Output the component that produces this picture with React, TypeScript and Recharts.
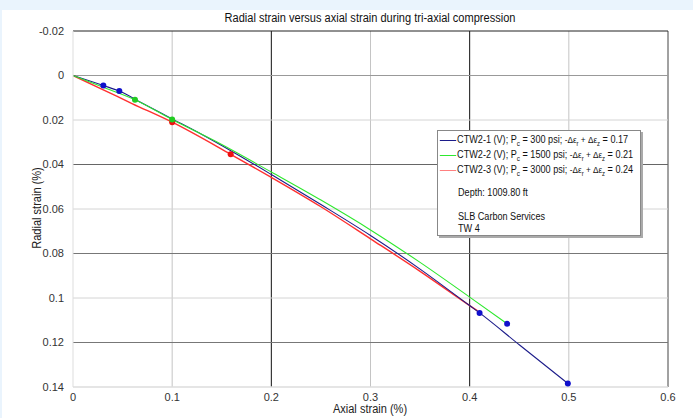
import React from 'react';
import { ComposedChart, Line, Scatter, XAxis, YAxis, ReferenceLine } from 'recharts';

const blueX = [0, 0.0306, 0.0467, 0.07, 0.1, 0.13, 0.16, 0.2, 0.25, 0.3, 0.35, 0.4, 0.41, 0.45, 0.499];
const blueY = [0, 0.0045, 0.007, 0.0125, 0.0195, 0.0265, 0.034, 0.0445, 0.058, 0.0719, 0.087, 0.1034, 0.1067, 0.121, 0.1384];
const greenX = [0, 0.03, 0.0625, 0.1, 0.15, 0.2, 0.25, 0.3, 0.35, 0.4, 0.4378];
const greenY = [0, 0.0052, 0.0109, 0.0198, 0.031, 0.0434, 0.056, 0.0694, 0.084, 0.0996, 0.1116];
const redX = [0, 0.03, 0.06, 0.1, 0.159, 0.2, 0.25, 0.3, 0.35, 0.4, 0.408];
const redY = [0, 0.0063, 0.0127, 0.021, 0.0354, 0.0458, 0.059, 0.0734, 0.088, 0.1034, 0.1058];

const blueMarkX = [0.0306, 0.0467, 0.41, 0.4378, 0.499];
const blueMarkY = [0.0045, 0.007, 0.1067, 0.1116, 0.1384];
const greenMarkX = [0.0625, 0.1];
const greenMarkY = [0.0109, 0.0198];
const redMarkX = [0.1, 0.159];
const redMarkY = [0.021, 0.0354];

const xTicks = [0, 0.1, 0.2, 0.3, 0.4, 0.5, 0.6];
const xTickLabels = ['0', '0.1', '0.2', '0.3', '0.4', '0.5', '0.6'];
const yTicks = [-0.02, 0, 0.02, 0.04, 0.06, 0.08, 0.1, 0.12, 0.14];
const yTickLabels = ['-0.02', '0', '0.02', '0.04', '0.06', '0.08', '0.1', '0.12', '0.14'];

const zip = (xs: number[], ys: number[]) => xs.map((x, i) => ({ x, y: ys[i] }));

const vGridColors: Record<string, string> = { '0.1': '#c4c4c4', '0.2': '#111', '0.3': '#c4c4c4', '0.4': '#111', '0.5': '#c4c4c4', '0.6': '#444' };
const hGridColors: Record<string, string> = { '-0.02': '#222', '0': '#999', '0.02': '#d4d4d4', '0.04': '#666', '0.06': '#d4d4d4', '0.08': '#777', '0.1': '#d4d4d4', '0.12': '#777', '0.14': '#dcdcdc' };

const font = 'Arial, "Liberation Sans", sans-serif';

export default function App() {
  const blue = zip(blueX, blueY);
  const green = zip(greenX, greenY);
  const red = zip(redX, redY);
  return (
    <div style={{ position: 'absolute', left: 0, top: 0, width: 693, height: 418, background: '#EAF4FD', fontFamily: font }}>
      <div style={{ position: 'absolute', left: 2, top: 10, width: 691, height: 408, background: '#fff' }} />
      <div style={{ position: 'absolute', left: 0, top: 0 }}>
        <ComposedChart width={693} height={418} margin={{ top: 31, right: 25, bottom: 11, left: 13 }}>
          <XAxis
            dataKey="x"
            type="number"
            domain={[0, 0.6]}
            ticks={xTicks}
            tickFormatter={(v: number) => xTickLabels[xTicks.indexOf(v)] ?? ''}
            allowDataOverflow
            stroke="#ddd"
            tickLine={false}
            tick={{ fill: '#333', fontSize: 11, fontFamily: font }}
            tickMargin={0}
            height={20}
          />
          <YAxis
            dataKey="y"
            type="number"
            domain={[-0.02, 0.14]}
            reversed
            ticks={yTicks}
            tickFormatter={(v: number) => yTickLabels[yTicks.findIndex((t) => Math.abs(t - v) < 1e-9)] ?? ''}
            allowDataOverflow
            stroke="#ddd"
            tickLine={false}
            tick={{ fill: '#333', fontSize: 11, fontFamily: font }}
            tickMargin={3}
            width={60}
          />
          {xTicks.slice(1).map((t, i) => (
            <ReferenceLine key={'v' + t} x={t} stroke={vGridColors[xTickLabels[i + 1]]} strokeWidth={1} />
          ))}
          {yTicks.map((t, i) => (
            <ReferenceLine key={'h' + t} y={t} stroke={hGridColors[yTickLabels[i]]} strokeWidth={1} />
          ))}
          <Line data={red} type="monotone" dataKey="y" stroke="#ff3030" strokeWidth={1.4} dot={false} isAnimationActive={false} />
          <Line data={blue} type="monotone" dataKey="y" stroke="#1c1c8a" strokeWidth={1.1} dot={false} isAnimationActive={false} />
          <Line data={green} type="monotone" dataKey="y" stroke="#2ee82e" strokeWidth={1.1} dot={false} isAnimationActive={false} />
          <Scatter data={zip(redMarkX, redMarkY)} dataKey="y" fill="#ee1111" isAnimationActive={false}
            shape={(p: any) => <circle cx={p.cx} cy={p.cy} r={3} fill="#ee1111" />} />
          <Scatter data={zip(greenMarkX, greenMarkY)} dataKey="y" fill="#22cc22" isAnimationActive={false}
            shape={(p: any) => <circle cx={p.cx} cy={p.cy} r={3} fill="#22cc22" />} />
          <Scatter data={zip(blueMarkX, blueMarkY)} dataKey="y" fill="#1010cc" isAnimationActive={false}
            shape={(p: any) => <circle cx={p.cx} cy={p.cy} r={3} fill="#1010cc" />} />
        </ComposedChart>
      </div>
      <div style={{ position: 'absolute', left: 0, width: 740, top: 11, textAlign: 'center', fontSize: 12, color: '#111', transform: 'scaleX(0.92)', zIndex: 5 }}>
        Radial strain versus axial strain during tri-axial compression
      </div>
      <div style={{ position: 'absolute', left: 0, width: 740, top: 402, textAlign: 'center', fontSize: 12, color: '#222', lineHeight: '14px', transform: 'scaleX(0.92)', zIndex: 5 }}>
        Axial strain (%)
      </div>
      <div style={{ position: 'absolute', left: 37, top: 209, width: 0, height: 0, zIndex: 5 }}>
        <div style={{ position: 'absolute', left: -60, top: -8, width: 120, textAlign: 'center', fontSize: 12, color: '#222', transform: 'rotate(-90deg) scaleX(0.92)', whiteSpace: 'nowrap' }}>
          Radial strain (%)
        </div>
      </div>
      <div style={{ position: 'absolute', left: 437, top: 130, width: 202, height: 104, border: '1px solid #888', background: '#fff', boxShadow: '2px 2px 0 #aaa', fontSize: 10, color: '#111', lineHeight: '12px', zIndex: 10, overflow: 'hidden' }}>
        <div style={{ position: 'absolute', left: 0, top: 0, width: 240, height: 104, transform: 'scaleX(0.91)', transformOrigin: '0 0' }}>
          {[
            { n: '1', c: '#1c1c8a', p: '300', v: '0.17', top: 3 },
            { n: '2', c: '#2ee82e', p: '1500', v: '0.21', top: 18 },
            { n: '3', c: '#ff8080', p: '3000', v: '0.24', top: 33 },
          ].map((r) => (
            <div key={r.n} style={{ position: 'absolute', left: 2, top: r.top, whiteSpace: 'nowrap' }}>
              <span style={{ display: 'inline-block', width: 18, height: 0, borderTop: `1px solid ${r.c}`, verticalAlign: 'middle', marginRight: 1 }} />
              CTW2-{r.n} (V); P<sub style={{ fontSize: 7 }}>c</sub> = {r.p} psi; <span style={{ fontSize: 9 }}>-Δε<sub style={{ fontSize: 6.5 }}>r</sub> + Δε<sub style={{ fontSize: 6.5 }}>z</sub></span> = {r.v}
            </div>
          ))}
          <div style={{ position: 'absolute', left: 22, top: 56 }}>Depth: 1009.80 ft</div>
          <div style={{ position: 'absolute', left: 22, top: 80 }}>SLB Carbon Services</div>
          <div style={{ position: 'absolute', left: 22, top: 92 }}>TW 4</div>
        </div>
      </div>
    </div>
  );
}
